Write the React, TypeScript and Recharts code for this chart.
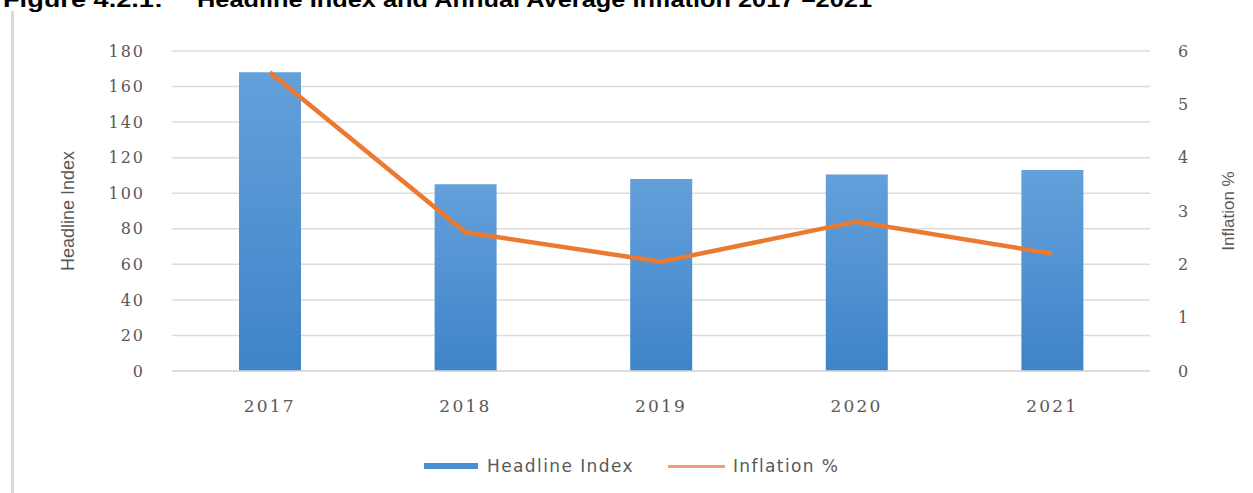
import React from "react";
import {
  ComposedChart,
  Bar,
  Line,
  XAxis,
  YAxis,
  CartesianGrid,
  Label,
} from "recharts";

const years = ["2017", "2018", "2019", "2020", "2021"];
const headlineIndex = [168, 105, 108, 110.5, 113];
const inflation = [5.6, 2.6, 2.05, 2.8, 2.2];
const leftTicks = [0, 20, 40, 60, 80, 100, 120, 140, 160, 180];
const rightTicks = [0, 1, 2, 3, 4, 5, 6];

const data = years.map((year, i) => ({
  year,
  headline: headlineIndex[i],
  inflation: inflation[i],
}));

const tickStyle = {
  fill: "#595959",
  fontFamily: "'DejaVu Serif', serif",
  fontSize: 16,
  letterSpacing: 2,
};

const xTickStyle = { ...tickStyle, fontSize: 17, letterSpacing: 2.2 };

const labelStyle = {
  fill: "#595959",
  fontFamily: "'Liberation Sans Narrow', 'Liberation Sans', sans-serif",
  fontSize: 18,
  textAnchor: "middle" as const,
};

export default function App() {
  return (
    <div
      style={{
        position: "absolute",
        left: 0,
        top: 0,
        width: 1253,
        height: 493,
        background: "#fff",
        overflow: "hidden",
      }}
    >
      <svg
        width={1253}
        height={493}
        style={{ position: "absolute", left: 0, top: 0 }}
      >
        <text
          x={3}
          y={7}
          textLength={160}
          lengthAdjust="spacingAndGlyphs"
          style={{
            fontFamily: "'Liberation Sans', Arial, sans-serif",
            fontWeight: "bold",
            fontSize: 22,
          }}
        >
          Figure 4.2.1:
        </text>
        <text
          x={197}
          y={7}
          textLength={675}
          lengthAdjust="spacingAndGlyphs"
          style={{
            fontFamily: "'Liberation Sans', Arial, sans-serif",
            fontWeight: "bold",
            fontSize: 22,
          }}
        >
          Headline Index and Annual Average Inflation 2017 –2021
        </text>
        <rect x={11} y={11} width={3} height={482} fill="#d9d9d9" />
      </svg>

      <div style={{ position: "absolute", left: 0, top: 0 }}>
        <ComposedChart
          width={1253}
          height={493}
          data={data}
          margin={{ top: 51, right: 0, bottom: 72, left: 12 }}
        >
          <defs>
            <linearGradient id="barFill" x1="0" y1="0" x2="0" y2="1">
              <stop offset="0%" stopColor="#64a0da" />
              <stop offset="100%" stopColor="#3e84c9" />
            </linearGradient>
          </defs>
          <CartesianGrid
            vertical={false}
            stroke="#dcdcdc"
            strokeWidth={1.5}
            yAxisId="left"
          />
          <XAxis
            dataKey="year"
            height={50}
            axisLine={{ stroke: "#d9d9d9", strokeWidth: 1.5 }}
            tickLine={false}
            tickSize={0}
            tickMargin={29}
            tick={xTickStyle}
          />
          <YAxis
            yAxisId="left"
            orientation="left"
            width={160}
            domain={[0, 180]}
            ticks={leftTicks}
            axisLine={false}
            tickLine={false}
            tickSize={0}
            tickMargin={27}
            tick={tickStyle}
          >
            <Label
              value="Headline Index"
              angle={-90}
              position="insideLeft"
              offset={56}
              style={labelStyle}
            />
          </YAxis>
          <YAxis
            yAxisId="right"
            orientation="right"
            width={103}
            domain={[0, 6]}
            ticks={rightTicks}
            axisLine={false}
            tickLine={false}
            tickSize={0}
            tickMargin={28}
            tick={tickStyle}
          >
            <Label
              value="Inflation %"
              angle={-90}
              position="insideRight"
              offset={25}
              style={{ ...labelStyle, fontSize: 17 }}
            />
          </YAxis>
          <Bar
            yAxisId="left"
            dataKey="headline"
            name="Headline Index"
            fill="url(#barFill)"
            barSize={62}
            isAnimationActive={false}
          />
          <Line
            yAxisId="right"
            dataKey="inflation"
            name="Inflation %"
            type="linear"
            stroke="#EB7A30"
            strokeWidth={4.5}
            dot={false}
            activeDot={false}
            isAnimationActive={false}
          />
        </ComposedChart>
      </div>

      <div
        style={{
          position: "absolute",
          top: 456,
          left: 424,
          display: "flex",
          alignItems: "center",
          fontFamily: "'DejaVu Sans', sans-serif",
          fontSize: 17,
          color: "#595959",
          whiteSpace: "nowrap",
        }}
      >
        <span
          style={{
            display: "inline-block",
            width: 54,
            height: 6,
            background: "#4a8fd2",
            marginRight: 9,
          }}
        />
        <span style={{ letterSpacing: 1.4 }}>Headline Index</span>
        <span
          style={{
            display: "inline-block",
            width: 57,
            height: 3,
            background: "#F0A070",
            marginLeft: 34,
            marginRight: 8,
          }}
        />
        <span style={{ letterSpacing: 1.4 }}>Inflation %</span>
      </div>
    </div>
  );
}
